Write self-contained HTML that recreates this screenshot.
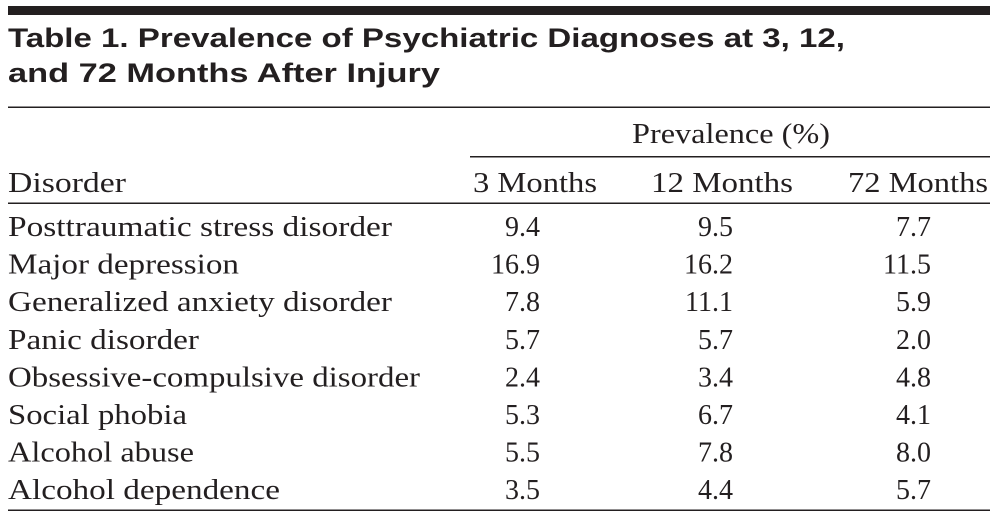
<!DOCTYPE html>
<html><head><meta charset="utf-8"><style>
html,body{margin:0;padding:0;background:#fff;}
svg{display:block;}
.s{font-family:"Liberation Serif",serif;font-size:28px;fill:#231f20;}
.t{font-family:"Liberation Sans",sans-serif;font-weight:bold;font-size:27px;fill:#231f20;}
</style></head><body>
<svg width="999" height="519" viewBox="0 0 999 519">
<rect x="8" y="6" width="982" height="9" fill="#231f20"/>
<text class="t" x="8" y="47" textLength="837" lengthAdjust="spacingAndGlyphs">Table 1. Prevalence of Psychiatric Diagnoses at 3, 12,</text>
<text class="t" x="8" y="82" textLength="432" lengthAdjust="spacingAndGlyphs">and 72 Months After Injury</text>
<rect x="8" y="106.5" width="982" height="1.5" fill="#231f20"/>
<text class="s" x="632" y="143" textLength="198" lengthAdjust="spacingAndGlyphs">Prevalence (%)</text>
<rect x="470" y="156" width="520" height="1.5" fill="#231f20"/>
<text class="s" x="8" y="192" textLength="118" lengthAdjust="spacingAndGlyphs">Disorder</text>
<text class="s" x="473" y="192" textLength="124" lengthAdjust="spacingAndGlyphs">3 Months</text>
<text class="s" x="651" y="192" textLength="142" lengthAdjust="spacingAndGlyphs">12 Months</text>
<text class="s" x="848" y="192" textLength="140" lengthAdjust="spacingAndGlyphs">72 Months</text>
<rect x="8" y="202.5" width="982" height="1.5" fill="#231f20"/>
<g id="rows"></g>
<rect x="8" y="509.5" width="982" height="1.5" fill="#231f20"/>
</svg>
<script>
const disorders=["Posttraumatic stress disorder","Major depression","Generalized anxiety disorder","Panic disorder","Obsessive-compulsive disorder","Social phobia","Alcohol abuse","Alcohol dependence"];
const labelWidths=[384,231,384,191,412,179,186,272];
const m3=[9.4,16.9,7.8,5.7,2.4,5.3,5.5,3.5];
const m12=[9.5,16.2,11.1,5.7,3.4,6.7,7.8,4.4];
const m72=[7.7,11.5,5.9,2.0,4.8,4.1,8.0,5.7];
const NS="http://www.w3.org/2000/svg";
const g=document.getElementById("rows");
const cols=[[m3,540,"3-months"],[m12,733,"12-months"],[m72,931,"72-months"]];
disorders.forEach((d,i)=>{
  const y=236+i*37.6;
  const t=document.createElementNS(NS,"text");
  t.setAttribute("class","s");t.setAttribute("x",8);t.setAttribute("y",y);
  t.setAttribute("textLength",labelWidths[i]);t.setAttribute("lengthAdjust","spacingAndGlyphs");
  t.textContent=d;
  
  
  g.appendChild(t);
  cols.forEach(c=>{
    const v=document.createElementNS(NS,"text");
    v.setAttribute("class","s");v.setAttribute("x",c[1]);v.setAttribute("y",y);
    v.setAttribute("text-anchor","end");
    v.textContent=c[0][i].toFixed(1);
    
    
    g.appendChild(v);
  });
});
</script>
</body></html>
